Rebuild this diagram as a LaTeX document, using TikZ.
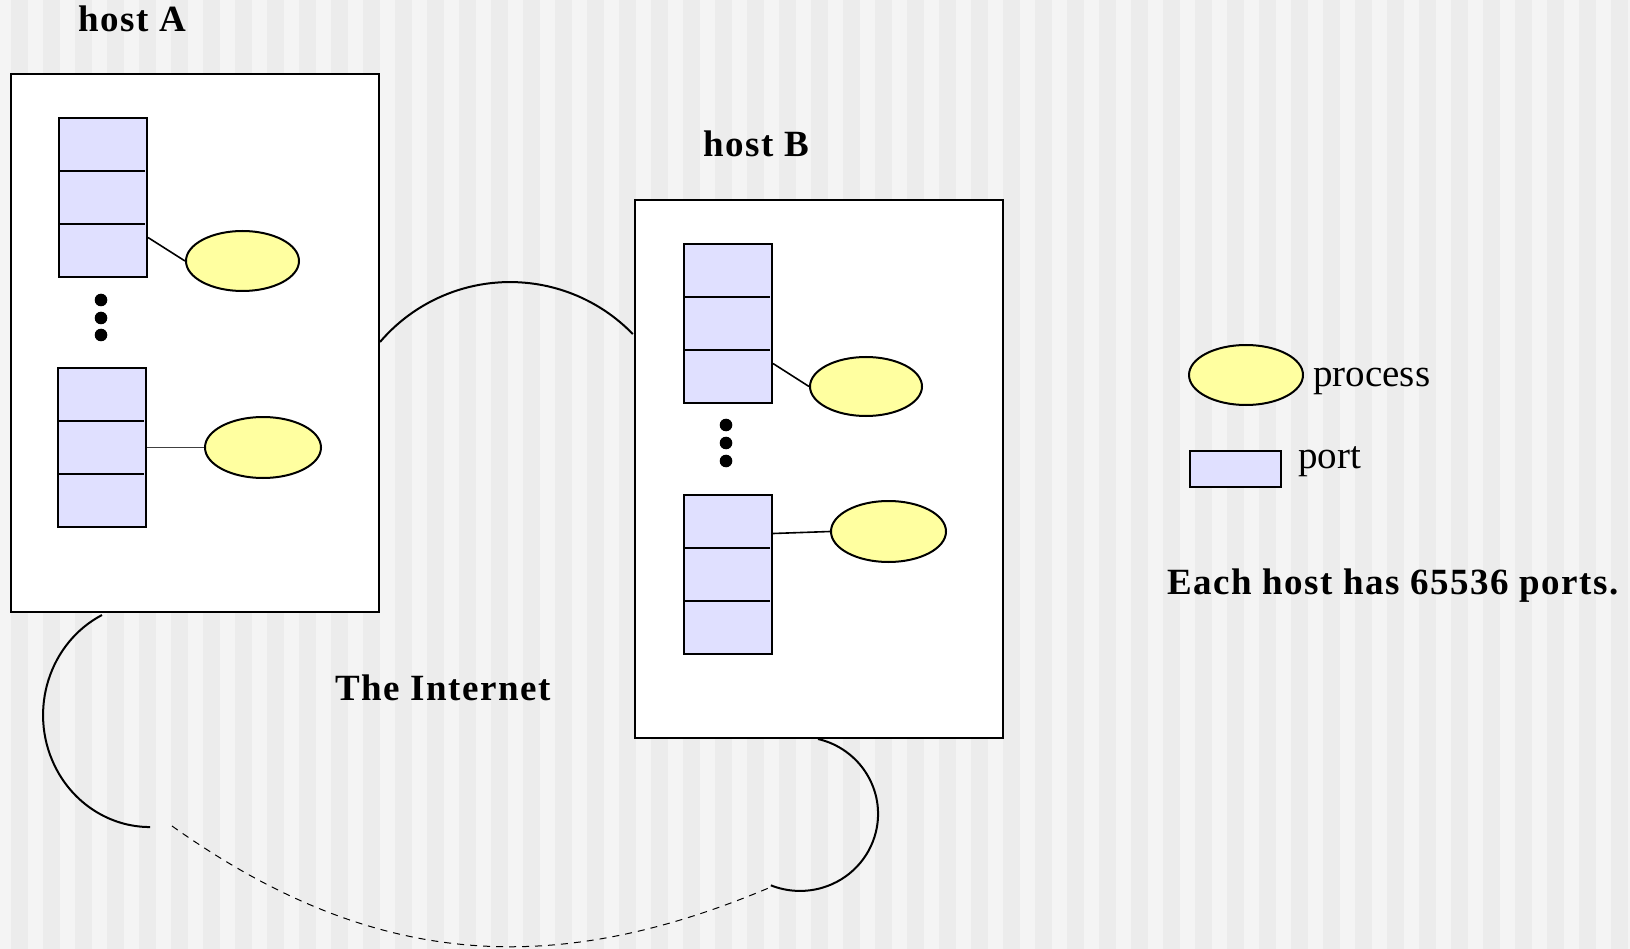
\documentclass[tikz,border=0pt]{standalone}
\usepackage{fontspec}
\setmainfont{Liberation Serif}
\newfontfamily\titlefont[LetterSpace=4]{Liberation Serif}
\usetikzlibrary{shapes.geometric,calc}

\definecolor{portblue}{RGB}{224,224,255}
\definecolor{procyellow}{RGB}{255,255,160}
\definecolor{stripelight}{RGB}{244,244,244}
\definecolor{stripedark}{RGB}{236,236,236}

\tikzset{
  host/.style={draw, line width=2pt, fill=white, minimum width=368pt, minimum height=538pt, inner sep=0pt},
  port/.style={draw, line width=2pt, fill=portblue, minimum width=88pt, minimum height=159pt, inner sep=0pt},
  proc/.style={ellipse, draw, line width=2pt, fill=procyellow, inner sep=0pt},
  title/.style={anchor=base west, inner sep=0pt, font=\fontsize{37}{44}\titlefont\bfseries},
  legend/.style={anchor=base west, inner sep=0pt, font=\fontsize{39}{46}\selectfont},
  link/.style={line width=1.6pt},
}

\begin{document}
\begin{tikzpicture}[x=1pt,y=-1pt]

% Background with vertical stripes
\fill [stripelight] (0,0) rectangle (1630,949);
\foreach \i in {0,...,50}
  \fill [stripedark] (11+32*\i,0) rectangle ++(16.5,949);
\useasboundingbox (0,0) rectangle (1630,949);

% The Internet cloud
\draw [line width=2pt] (380,342) arc (220.5:315.9:171);
\draw [line width=2pt] (102,615) arc [start angle=243.3, end angle=90, x radius=107, y radius=112];
\draw [line width=2pt] (818,739) arc [start angle=-76.7, end angle=112, x radius=78, y radius=77];
\draw [line width=1pt, dash pattern=on 7pt off 6pt] (172,826) .. controls (372,968) and (551,980) .. (771,887);
\node [title] (net) at (335,700) {The Internet};

% Hosts
\node [host] (hostA) at (195,343) {};
\node [host] (hostB) at (819,469) {};
\node [title] (labA) at (78,32) {host A};
\node [title] (labB) at (703,157) {host B};

% Ports
\node [port] (portA1) at (103,197.5) {};
\node [port] (portA2) at (102,447.5) {};
\node [port] (portB1) at (728,323.5) {};
\node [port] (portB2) at (728,574.5) {};
\foreach \p in {portA1,portA2,portB1,portB2} {
  \draw [line width=2pt] ($(\p.north west)!1/3!(\p.south west)$) -- ($(\p.north east)!1/3!(\p.south east)+(-3,0)$);
  \draw [line width=2pt] ($(\p.north west)!2/3!(\p.south west)$) -- ($(\p.north east)!2/3!(\p.south east)+(-3,0)$);
}

% Processes
\node [proc, minimum width=113pt, minimum height=60pt] (procA1) at (242.5,261) {};
\node [proc, minimum width=116pt, minimum height=61pt] (procA2) at (263,447.5) {};
\node [proc, minimum width=112pt, minimum height=59pt] (procB1) at (866,386.5) {};
\node [proc, minimum width=115pt, minimum height=61pt] (procB2) at (888.5,531.5) {};

\draw [link] ([yshift=-40pt]portA1.east) -- (procA1.west);
\draw [line width=1pt, black!75] (portA2.east) -- (procA2.west);
\draw [link] ([yshift=-40pt]portB1.east) -- (procB1.west);
\draw [link] ([yshift=41pt]portB2.east) -- (procB2.west);

% Dots between the ports
\foreach \y in {300,318,335}
  \fill (101,\y) circle (6.3);
\foreach \y in {425,443,461}
  \fill (726,\y) circle (6.3);

% Legend
\node [proc, minimum width=114pt, minimum height=60pt] (legProc) at (1246,375) {};
\node [legend] (legProcText) at (1313,387) {process};
\node [port, minimum width=91pt, minimum height=36pt] (legPort) at (1235.5,469) {};
\node [legend] (legPortText) at (1298,468) {port};
\node [title] (note) at (1167,594) {Each host has 65536 ports.};

\end{tikzpicture}
\end{document}
